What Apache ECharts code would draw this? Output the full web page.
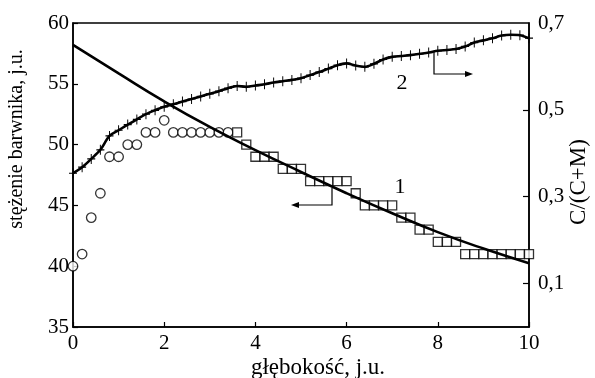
<!DOCTYPE html>
<html>
<head>
<meta charset="utf-8">
<script src="https://cdn.jsdelivr.net/npm/echarts@6/dist/echarts.min.js"></script>
<style>
  html, body { margin: 0; padding: 0; background: #fff; }
  #chart { width: 595px; height: 378px; }
</style>
</head>
<body>
<div id="chart"></div>
<script>
// circles (left axis)
var circleX = [0, 0.2, 0.4, 0.6, 0.8, 1.0, 1.2, 1.4, 1.6, 1.8, 2.0, 2.2, 2.4, 2.6, 2.8, 3.0, 3.2, 3.4];
var circleY = [40, 41, 44, 46, 49, 49, 50, 50, 51, 51, 52, 51, 51, 51, 51, 51, 51, 51];

// squares (left axis)
var squareX = [3.6, 3.8, 4.0, 4.2, 4.4, 4.6, 4.8, 5.0, 5.2, 5.4, 5.6, 5.8, 6.0, 6.2, 6.4, 6.6, 6.8, 7.0,
               7.2, 7.4, 7.6, 7.8, 8.0, 8.2, 8.4, 8.6, 8.8, 9.0, 9.2, 9.4, 9.6, 9.8, 10.0];
var squareY = [51, 50, 49, 49, 49, 48, 48, 48, 47, 47, 47, 47, 47, 46, 45, 45, 45, 45,
               44, 44, 43, 43, 42, 42, 42, 41, 41, 41, 41, 41, 41, 41, 41];

// curve 1 (left axis)
var line1X = [0, 1, 2, 3, 4, 5, 6, 7, 8, 9, 10];
var line1Y = [58.2, 55.85, 53.55, 51.45, 49.55, 47.75, 46.0, 44.35, 42.8, 41.45, 40.25];

// curve 2 (right axis, C/(C+M))
var line2X = [0, 0.2, 0.4, 0.6, 0.8, 1.0, 1.2, 1.4, 1.6, 1.8, 2.0, 2.2, 2.4, 2.6, 2.8, 3.0, 3.2, 3.4, 3.6, 3.8,
              4.0, 4.2, 4.4, 4.6, 4.8, 5.0, 5.2, 5.4, 5.6, 5.8, 6.0, 6.2, 6.4, 6.6, 6.8, 7.0, 7.2, 7.4, 7.6, 7.8,
              8.0, 8.2, 8.4, 8.6, 8.8, 9.0, 9.2, 9.4, 9.6, 9.8, 10.0];
var line2Y = [0.354, 0.368, 0.387, 0.408, 0.440, 0.453, 0.466, 0.478, 0.490, 0.499, 0.507, 0.513, 0.519, 0.525, 0.531, 0.537, 0.543, 0.550, 0.555, 0.553,
              0.556, 0.559, 0.563, 0.566, 0.569, 0.573, 0.580, 0.587, 0.595, 0.603, 0.607, 0.602, 0.599, 0.606, 0.616, 0.622, 0.624, 0.626, 0.629, 0.632,
              0.636, 0.638, 0.640, 0.646, 0.655, 0.660, 0.665, 0.671, 0.673, 0.672, 0.665];

// tick labels
var leftTicks = [35, 40, 45, 50, 55, 60];
var rightLabels = [0.1, 0.3, 0.5, 0.7];
var bottomTicks = [0, 2, 4, 6, 8, 10];

function pairs(xs, ys) {
    return xs.map(function(x, i) { return [x, ys[i]]; });
}

var FONT = 'Liberation Serif';
var plusSymbol = 'path://M0,4.4H10V5.6H0Z M4.4,0H5.6V10H4.4Z';

var myChart = echarts.init(document.getElementById('chart'));
var option = {
    animation: false,
    backgroundColor: '#fff',
    textStyle: { fontFamily: FONT, color: '#000' },
    grid: {
        left: 73,
        right: 66,
        top: 23,
        bottom: 51,
        show: true,
        borderColor: '#000',
        borderWidth: 1.5
    },
    xAxis: {
        type: 'value',
        min: 0,
        max: 10,
        interval: 2,
        splitLine: { show: false },
        axisLine: { lineStyle: { color: '#000', width: 1.5 } },
        axisTick: { inside: true, length: 5, lineStyle: { color: '#000', width: 1.2 } },
        axisLabel: {
            color: '#000', fontFamily: FONT, fontSize: 21, margin: 6,
            customValues: bottomTicks
        }
    },
    yAxis: [
        {
            type: 'value',
            min: 35,
            max: 60,
            interval: 5,
            splitLine: { show: false },
            axisLine: { show: true, lineStyle: { color: '#000', width: 1.5 } },
            axisTick: { inside: true, length: 5, lineStyle: { color: '#000', width: 1.2 } },
            axisLabel: {
                color: '#000', fontFamily: FONT, fontSize: 21, margin: 4,
                customValues: leftTicks
            }
        },
        {
            type: 'value',
            position: 'right',
            min: 0,
            max: 0.7,
            splitLine: { show: false },
            axisLine: { show: true, lineStyle: { color: '#000', width: 1.5 } },
            axisTick: {
                inside: true, length: 6, lineStyle: { color: '#000', width: 1.2 },
                customValues: [0.1, 0.3, 0.5]
            },
            axisLabel: {
                color: '#000', fontFamily: FONT, fontSize: 21, margin: 9,
                customValues: rightLabels,
                formatter: function(v) { return v.toFixed(1).replace('.', ','); }
            }
        }
    ],
    series: [
        {
            name: 'curve1',
            type: 'line',
            yAxisIndex: 0,
            smooth: true,
            showSymbol: false,
            lineStyle: { color: '#000', width: 2.6 },
            data: pairs(line1X, line1Y),
            z: 3
        },
        {
            name: 'circles',
            type: 'scatter',
            yAxisIndex: 0,
            symbol: 'circle',
            symbolSize: 9.5,
            itemStyle: { color: '#fff', borderColor: '#000', borderWidth: 1.3 },
            data: pairs(circleX, circleY),
            z: 2
        },
        {
            name: 'squares',
            type: 'scatter',
            yAxisIndex: 0,
            symbol: 'rect',
            symbolSize: 9,
            itemStyle: { color: '#fff', borderColor: '#000', borderWidth: 1.3 },
            data: pairs(squareX, squareY),
            z: 2
        },
        {
            name: 'curve2',
            type: 'line',
            yAxisIndex: 1,
            smooth: 0.3,
            symbol: plusSymbol,
            symbolSize: [8, 10],
            showAllSymbol: true,
            itemStyle: { color: '#000' },
            lineStyle: { color: '#000', width: 2.6 },
            data: pairs(line2X, line2Y),
            z: 4
        }
    ],
    graphic: [
        {
            type: 'text', x: 17, y: 139, rotation: Math.PI / 2,
            style: { text: 'stężenie barwnika, j.u.', font: '20px "Liberation Serif"', fill: '#000', align: 'center', verticalAlign: 'middle' }
        },
        {
            type: 'text', x: 318, y: 368,
            style: { text: 'głębokość, j.u.', font: '23px "Liberation Serif"', fill: '#000', align: 'center', verticalAlign: 'middle' }
        },
        {
            type: 'text', x: 579, y: 182, rotation: Math.PI / 2,
            style: { text: 'C/(C+M)', font: '23px "Liberation Serif"', fill: '#000', align: 'center', verticalAlign: 'middle' }
        },
        {
            type: 'text', x: 400, y: 187,
            style: { text: '1', font: '22px "Liberation Serif"', fill: '#000', align: 'center', verticalAlign: 'middle' }
        },
        {
            type: 'text', x: 402, y: 83,
            style: { text: '2', font: '22px "Liberation Serif"', fill: '#000', align: 'center', verticalAlign: 'middle' }
        },
        {
            type: 'polyline',
            shape: { points: [[332, 188], [332, 205], [297, 205]] },
            style: { stroke: '#000', lineWidth: 1.2, fill: null }
        },
        {
            type: 'polygon',
            shape: { points: [[291, 205], [299, 202], [299, 208]] },
            style: { fill: '#000' }
        },
        {
            type: 'polyline',
            shape: { points: [[434, 52], [434, 74], [467, 74]] },
            style: { stroke: '#000', lineWidth: 1.2, fill: null }
        },
        {
            type: 'polygon',
            shape: { points: [[473, 74], [465, 71], [465, 77]] },
            style: { fill: '#000' }
        }
    ]
};
myChart.setOption(option);
</script>
</body>
</html>
